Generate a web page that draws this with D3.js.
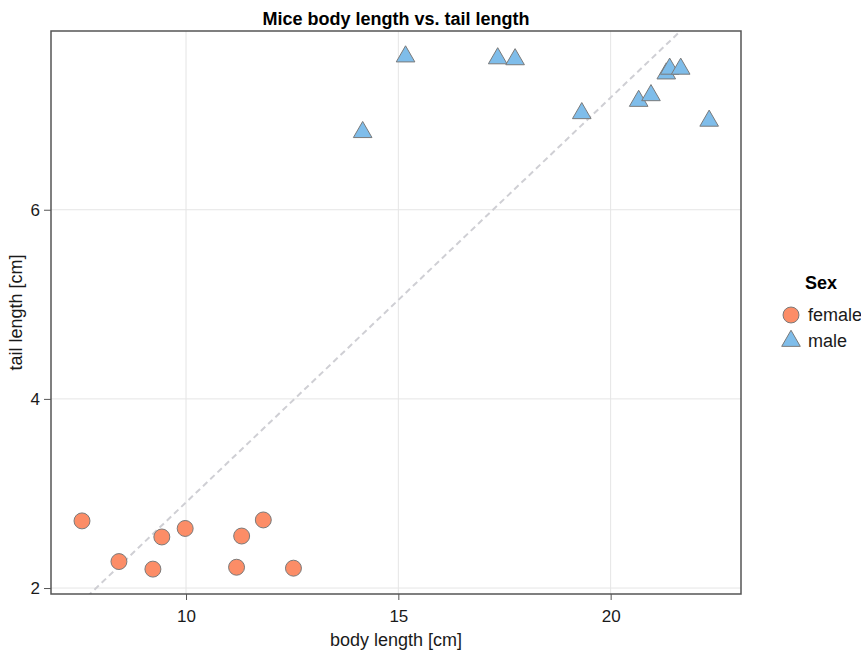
<!DOCTYPE html>
<html>
<head>
<meta charset="utf-8">
<script src="https://cdn.jsdelivr.net/npm/d3@7"></script>
<style>
  body { margin: 0; background: #fff; }
  svg { font-family: "Liberation Sans", Arial, sans-serif; }
</style>
</head>
<body>
<script>
// data
const femaleBody = [7.55, 8.42, 9.22, 9.43, 9.98, 11.19, 11.31, 11.82, 12.53];
const femaleTail = [2.71, 2.28, 2.20, 2.54, 2.63, 2.22, 2.55, 2.72, 2.21];
const maleBody = [14.16, 15.17, 17.34, 17.75, 19.32, 20.66, 20.95, 21.31, 21.39, 21.65, 22.32];
const maleTail = [6.82, 7.62, 7.60, 7.59, 7.02, 7.15, 7.21, 7.44, 7.49, 7.49, 6.94];
const sexes = ["female", "male"];
const xTicks = [10, 15, 20];
const yTicks = [2, 4, 6];
const fitSlope = 0.428, fitIntercept = -1.374;

const width = 861, height = 652;
const margin = {top: 31, right: 120, bottom: 58, left: 51};
const font = "Liberation Sans, Arial, sans-serif";

const color = d3.scaleOrdinal(sexes, ["#fc8d67", "#7fbdea"]);
const shape = d3.scaleOrdinal(sexes, [d3.symbolCircle, d3.symbolTriangle]);
const size = d3.scaleOrdinal(sexes, [200, 150]);

const points = [
  ...femaleBody.map((b, i) => ({sex: "female", body: b, tail: femaleTail[i]})),
  ...maleBody.map((b, i) => ({sex: "male", body: b, tail: maleTail[i]}))
];

const x = d3.scaleLinear([6.82, 23.07], [margin.left, width - margin.right]);
const y = d3.scaleLinear([1.937, 7.89], [height - margin.bottom, margin.top]);

const svg = d3.select("body").append("svg")
    .attr("width", width)
    .attr("height", height);

// grid
svg.append("g")
    .attr("stroke", "#e5e5e5")
  .selectAll("line")
  .data(xTicks)
  .join("line")
    .attr("x1", d => x(d)).attr("x2", d => x(d))
    .attr("y1", y.range()[1]).attr("y2", y.range()[0]);

svg.append("g")
    .attr("stroke", "#e5e5e5")
  .selectAll("line")
  .data(yTicks)
  .join("line")
    .attr("y1", d => y(d)).attr("y2", d => y(d))
    .attr("x1", x.range()[0]).attr("x2", x.range()[1]);

// fitted dashed line, clipped to the panel
svg.append("clipPath").attr("id", "panel")
  .append("rect")
    .attr("x", x.range()[0]).attr("y", y.range()[1])
    .attr("width", x.range()[1] - x.range()[0])
    .attr("height", y.range()[0] - y.range()[1]);

const lx = x.domain();
svg.append("line")
    .attr("clip-path", "url(#panel)")
    .attr("x1", x(lx[0])).attr("y1", y(fitIntercept + fitSlope * lx[0]))
    .attr("x2", x(lx[1])).attr("y2", y(fitIntercept + fitSlope * lx[1]))
    .attr("stroke", "#cfcfd4")
    .attr("stroke-width", 2)
    .attr("stroke-dasharray", "6,4");

// points
svg.append("g")
  .selectAll("path")
  .data(points)
  .join("path")
    .attr("transform", d => `translate(${x(d.body)},${y(d.tail)})`)
    .attr("d", d => d3.symbol(shape(d.sex), size(d.sex))())
    .attr("fill", d => color(d.sex))
    .attr("stroke", "#7a7a7a")
    .attr("stroke-width", 1);

// frame
svg.append("rect")
    .attr("x", x.range()[0]).attr("y", y.range()[1])
    .attr("width", x.range()[1] - x.range()[0])
    .attr("height", y.range()[0] - y.range()[1])
    .attr("fill", "none")
    .attr("stroke", "#555")
    .attr("stroke-width", 1.5);

// axes
const xAxis = svg.append("g")
    .attr("transform", `translate(0,${y.range()[0]})`)
    .call(d3.axisBottom(x).tickValues(xTicks).tickSize(6).tickPadding(10));
const yAxis = svg.append("g")
    .attr("transform", `translate(${x.range()[0]},0)`)
    .call(d3.axisLeft(y).tickValues(yTicks).tickFormat(d3.format("d")).tickSize(7).tickPadding(4));

for (const g of [xAxis, yAxis]) {
  g.select(".domain").remove();
  g.selectAll(".tick line").attr("stroke", "#555");
  g.selectAll(".tick text")
      .attr("font-size", 17)
      .attr("font-family", font)
      .attr("fill", "#1a1a1a");
}

// titles
const cx = (x.range()[0] + x.range()[1]) / 2;
svg.append("text")
    .attr("x", cx).attr("y", 25)
    .attr("text-anchor", "middle")
    .attr("font-size", 18)
    .attr("font-weight", "bold")
    .text("Mice body length vs. tail length");

svg.append("text")
    .attr("x", cx).attr("y", 646)
    .attr("text-anchor", "middle")
    .attr("font-size", 18)
    .attr("fill", "#1a1a1a")
    .text("body length [cm]");

svg.append("text")
    .attr("transform", `translate(22,${(y.range()[0] + y.range()[1]) / 2}) rotate(-90)`)
    .attr("text-anchor", "middle")
    .attr("font-size", 18)
    .attr("fill", "#1a1a1a")
    .text("tail length [cm]");

// legend
const legend = svg.append("g").attr("transform", "translate(782,0)");
legend.append("text")
    .attr("x", 23).attr("y", 289)
    .attr("font-size", 18)
    .attr("font-weight", "bold")
    .text("Sex");

const item = legend.selectAll("g.item")
  .data(sexes)
  .join("g")
    .attr("class", "item")
    .attr("transform", (d, i) => `translate(9,${315 + i * 26})`);

item.append("path")
    .attr("d", d => d3.symbol(shape(d), size(d))())
    .attr("fill", d => color(d))
    .attr("stroke", "#7a7a7a");

item.append("text")
    .attr("x", 17).attr("dy", "0.35em")
    .attr("font-size", 18)
    .attr("fill", "#1a1a1a")
    .text(d => d);
</script>
</body>
</html>
